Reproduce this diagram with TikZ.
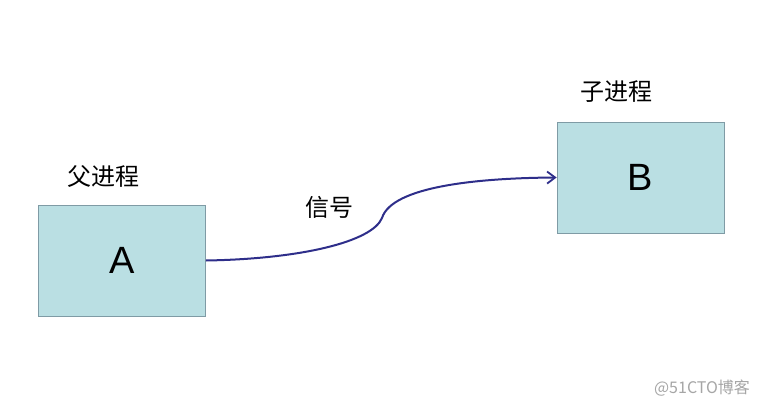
\documentclass[tikz,border=0pt]{standalone}
\usepackage{fontspec}
\setmainfont{Liberation Sans}
\newfontfamily\cjk{Noto Sans CJK SC}
\usetikzlibrary{arrows.meta}
\definecolor{boxfill}{HTML}{BADFE3}
\definecolor{boxline}{HTML}{7F9BA5}
\definecolor{arrowcol}{HTML}{2E2E8A}
\tikzset{
  procbox/.style={draw=boxline, fill=boxfill, line width=0.8pt, minimum width=167pt, minimum height=111pt, inner sep=0pt, font=\fontsize{38}{40}\selectfont},
  cjklabel/.style={font=\cjk\fontsize{24}{26}\selectfont, inner sep=0pt},
  sig/.style={draw=arrowcol, line width=2pt, -{Straight Barb[length=8pt,width=12pt,line width=1.8pt]}}
}
\begin{document}
\begin{tikzpicture}[x=1pt,y=-1pt]
\useasboundingbox (0,0) rectangle (760,407);
\fill[white] (0,0) rectangle (760,407);
\node[procbox] (A) at (122,260.5) {A};
\node[procbox] (B) at (640.5,177.5) {B};
\node[cjklabel] (la) at (103,176) {父进程};
\node[cjklabel] (lb) at (616,92) {子进程};
\node[cjklabel] (ls) at (329,207) {信号};
\coordinate (k) at (382,218);
\draw[sig] (A.east) .. controls (300,259) and (372,242) .. (k) .. controls (392,186) and (480,178) .. (B.west);
\node[font=\cjk\fontsize{16}{18}\selectfont, text=gray!70] (wm) at (702,388) {@51CTO博客};
\end{tikzpicture}
\end{document}
